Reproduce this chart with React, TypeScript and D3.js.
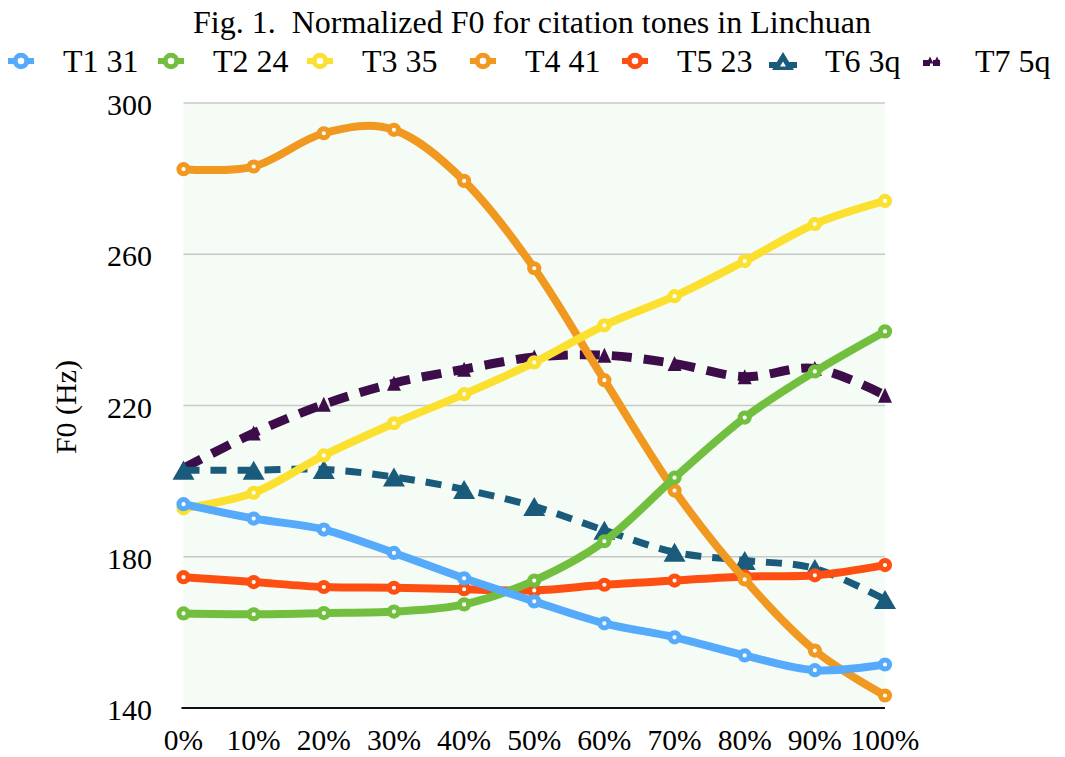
import React from "react";
import * as d3 from "d3";

const positions = [0, 10, 20, 30, 40, 50, 60, 70, 80, 90, 100];
const xTickLabels = ["0%", "10%", "20%", "30%", "40%", "50%", "60%", "70%", "80%", "90%", "100%"];
const yTicks = [140, 180, 220, 260, 300];

const t1 = [193.9, 190.1, 187.2, 181.0, 174.3, 168.2, 162.4, 158.7, 153.9, 150.0, 151.5];
const t2 = [165.0, 164.8, 165.1, 165.5, 167.4, 173.7, 184.1, 200.9, 216.8, 229.0, 239.6];
const t3 = [192.8, 196.9, 206.8, 215.3, 223.0, 231.4, 241.2, 248.9, 258.2, 268.0, 274.1];
const t4 = [282.5, 283.2, 292.0, 292.9, 279.4, 256.3, 226.7, 197.5, 174.0, 155.2, 143.3];
const t5 = [174.6, 173.3, 172.0, 171.8, 171.4, 171.1, 172.6, 173.7, 174.8, 175.1, 177.8];
const t6 = [202.9, 202.9, 203.1, 201.1, 197.8, 193.3, 187.0, 181.2, 179.0, 176.9, 168.7];
const t7 = [203.4, 212.7, 220.3, 225.9, 229.6, 232.8, 233.3, 231.1, 227.6, 229.8, 222.7];

const seriesNames = ["T1 31", "T2 24", "T3 35", "T4 41", "T5 23", "T6 3q", "T7 5q"];
const seriesValues = [t1, t2, t3, t4, t5, t6, t7];
const seriesColors = ["#55aafb", "#72bf3f", "#fce02f", "#f0981f", "#fe4f12", "#1a5b7b", "#3d0d49"];
const seriesMarkers = ["circle", "circle", "circle", "circle", "circle", "triangle", "triangle"];
const seriesDash = [null, null, null, null, null, "16,11", "20,12"];
const legendTextX = [63, 213, 362, 525, 677, 825, 975];

const FONT = "'Liberation Serif', 'Times New Roman', serif";

export default function App() {
  const W = 1065, H = 757;
  const x = d3.scaleLinear().domain([0, 100]).range([183.5, 885]);
  const y = d3.scaleLinear().domain([140, 300]).range([708, 103]);
  const line = d3
    .line<[number, number]>()
    .x((d) => x(d[0]))
    .y((d) => y(d[1]))
    .curve(d3.curveCardinal.tension(0));

  const tri = (cx: number, cy: number, w: number, h: number) =>
    `M${cx - w / 2},${cy + h / 2}L${cx},${cy - h / 2}L${cx + w / 2},${cy + h / 2}Z`;

  const order = [6, 5, 4, 3, 2, 1, 0];

  return (
    <svg
      width={W}
      height={H}
      style={{ position: "fixed", left: 0, top: 0, background: "#fff" }}
      fontFamily={FONT}
    >
      {/* plot background */}
      <rect x={x(0)} y={y(300)} width={x(100) - x(0)} height={y(140) - y(300)} fill="#f5fcf5" />
      {/* gridlines */}
      {yTicks.filter((t) => t !== 140).map((t) => (
        <line key={t} x1={x(0)} x2={x(100)} y1={y(t)} y2={y(t)} stroke="#c8c8c8" strokeWidth={1.5} />
      ))}
      {/* axis line */}
      <line x1={x(0) - 2} x2={x(100)} y1={y(140)} y2={y(140)} stroke="#111" strokeWidth={2} />

      {/* y tick labels */}
      {yTicks.map((t) => (
        <text key={t} x={152} y={y(t) + 12} textAnchor="end" fontSize={30} fill="#000">
          {t}
        </text>
      ))}
      {/* x tick labels */}
      {positions.map((p, i) => (
        <text key={p} x={x(p)} y={750} textAnchor="middle" fontSize={29.5} fill="#000">
          {xTickLabels[i]}
        </text>
      ))}
      {/* y axis title */}
      <text
        transform={`translate(76,407) rotate(-90)`}
        textAnchor="middle"
        fontSize={30}
        fill="#000"
      >
        F0 (Hz)
      </text>

      {/* series */}
      {order.map((si) => {
        const vals = seriesValues[si];
        const pts = positions.map((p, i) => [p, vals[i]] as [number, number]);
        const color = seriesColors[si];
        const isTri = seriesMarkers[si] === "triangle";
        return (
          <g key={si}>
            <path
              d={line(pts) || ""}
              fill="none"
              stroke={color}
              strokeWidth={si === 6 ? 9 : si === 5 ? 7 : 8}
              strokeDasharray={seriesDash[si] || undefined}
              strokeLinejoin="round"
            />
            {pts.map((d, i) =>
              isTri ? (
                <path
                  key={i}
                  d={si === 5 ? tri(x(d[0]), y(d[1]), 22, 19) : tri(x(d[0]), y(d[1]), 14, 15)}
                  fill={color}
                />
              ) : (
                <circle
                  key={i}
                  cx={x(d[0])}
                  cy={y(d[1])}
                  r={4.6}
                  fill="#fff"
                  stroke={color}
                  strokeWidth={5}
                />
              )
            )}
          </g>
        );
      })}

      {/* title */}
      <text x={532} y={33} textAnchor="middle" fontSize={32} fill="#000" style={{ whiteSpace: "pre" }}>
        {"Fig. 1.  Normalized F0 for citation tones in Linchuan"}
      </text>

      {/* legend */}
      {seriesNames.map((name, i) => {
        const mx = legendTextX[i] - 42;
        const my = 61;
        const color = seriesColors[i];
        let marker;
        if (seriesMarkers[i] === "circle") {
          marker = (
            <g>
              <line x1={mx - 13} x2={mx + 13} y1={my} y2={my} stroke={color} strokeWidth={6} />
              <circle cx={mx} cy={my} r={5.8} fill="#fff" stroke={color} strokeWidth={5} />
            </g>
          );
        } else if (i === 5) {
          marker = (
            <g>
              <line x1={mx - 14} x2={mx + 14} y1={my + 4} y2={my + 4} stroke={color} strokeWidth={6} />
              <path d={tri(mx, my, 22, 18)} fill={color} />
              <path d={tri(mx, my + 3, 6, 5)} fill="#fff" />
            </g>
          );
        } else {
          marker = (
            <g>
              <line x1={mx - 10} x2={mx + 10} y1={my + 2} y2={my + 2} stroke={color} strokeWidth={6} strokeDasharray="7,3" />
              <path d={tri(mx - 3, my - 1, 7, 7)} fill={color} />
              <path d={tri(mx + 4, my - 1, 7, 7)} fill={color} />
            </g>
          );
        }
        return (
          <g key={name}>
            {marker}
            <text x={legendTextX[i]} y={72} fontSize={32} fill="#000">
              {name}
            </text>
          </g>
        );
      })}
    </svg>
  );
}
